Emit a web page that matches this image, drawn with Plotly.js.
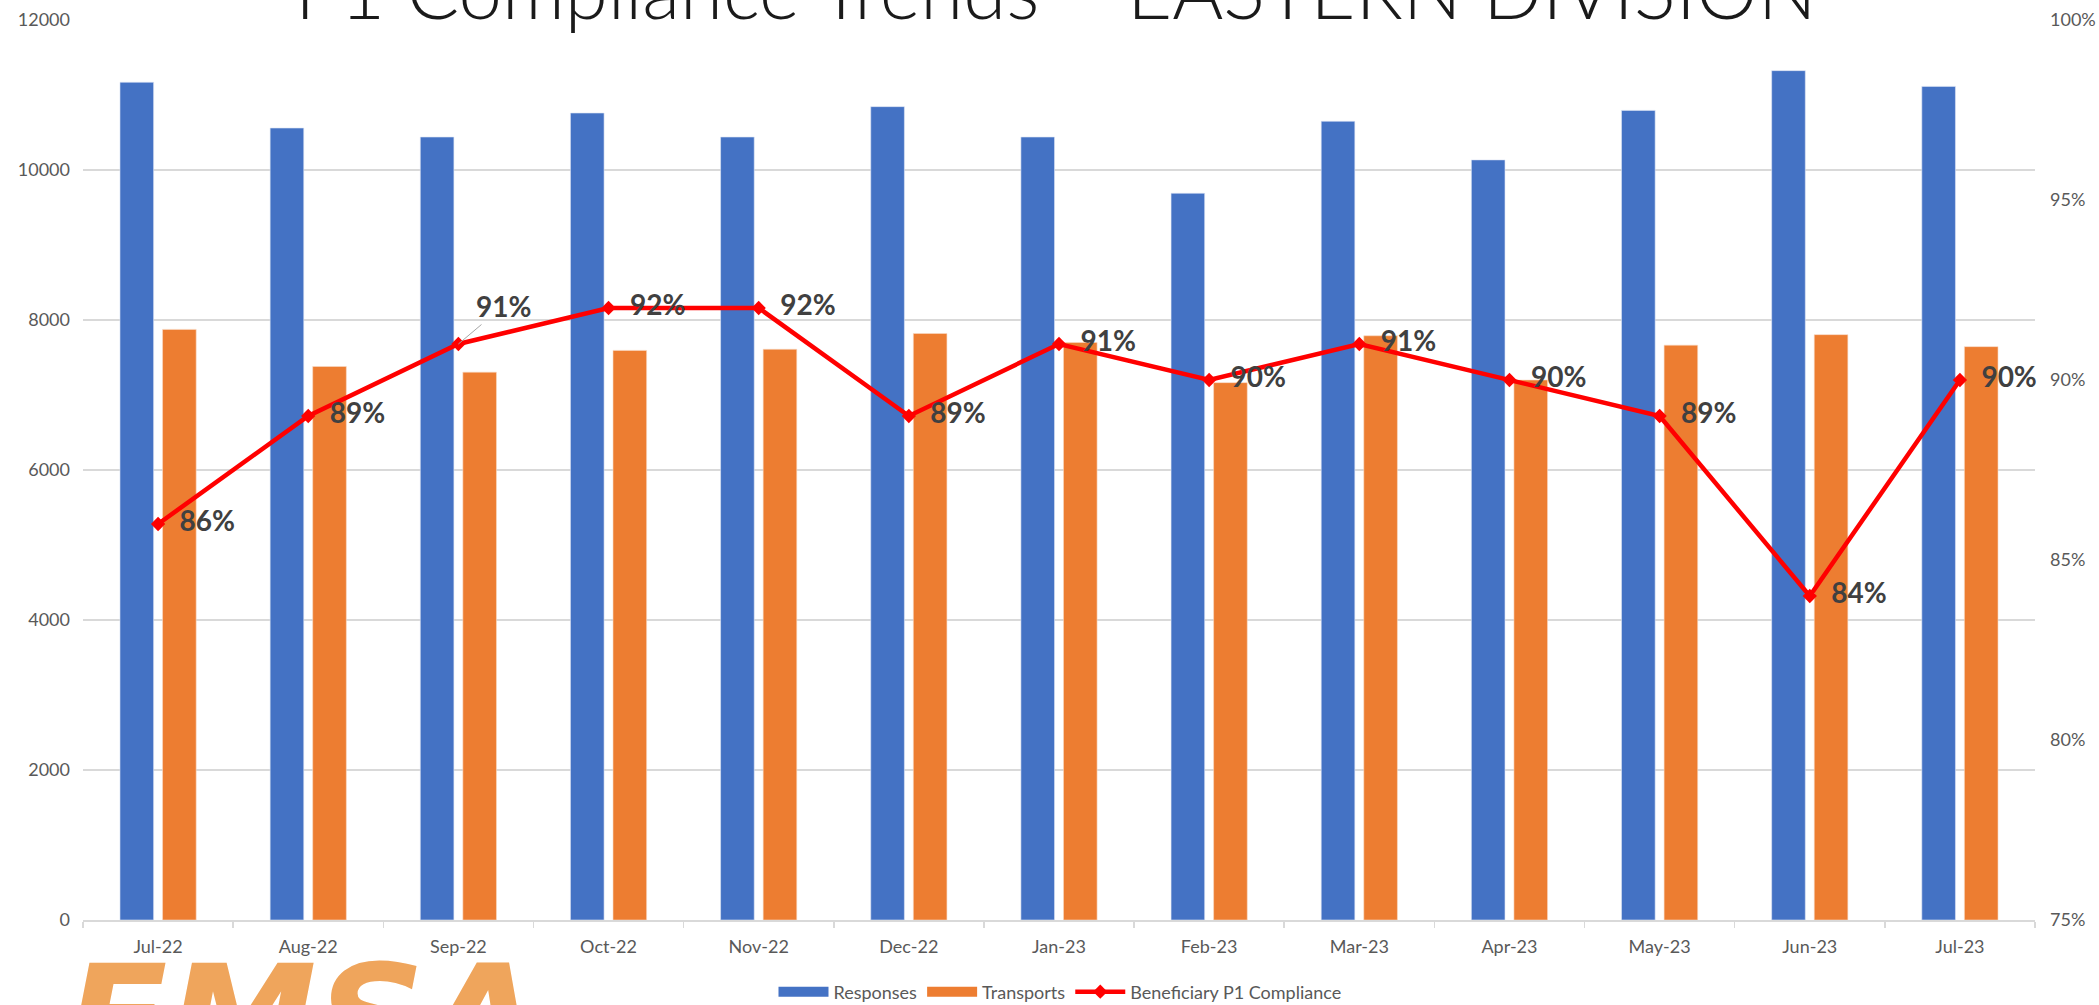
<!DOCTYPE html>
<html>
<head>
<meta charset="utf-8">
<script src="https://cdn.plot.ly/plotly-3.0.1.min.js"></script>
<style>html,body{margin:0;padding:0;background:#fff;overflow:hidden;}#chart{width:2099px;height:1005px;}</style>
</head>
<body>
<div id="chart"></div>
<script>
const months = ["Jul-22","Aug-22","Sep-22","Oct-22","Nov-22","Dec-22","Jan-23","Feb-23","Mar-23","Apr-23","May-23","Jun-23","Jul-23"];
const responses = [11170, 10560, 10440, 10760, 10440, 10845, 10440, 9690, 10650, 10135, 10795, 11325, 11115];
const transports = [7875, 7380, 7305, 7595, 7610, 7820, 7700, 7165, 7790, 7200, 7665, 7805, 7645];
const compliance = [0.86, 0.89, 0.91, 0.92, 0.92, 0.89, 0.91, 0.90, 0.91, 0.90, 0.89, 0.84, 0.90];
const leftTicks = [0, 2000, 4000, 6000, 8000, 10000, 12000];
const rightTicks = [0.75, 0.80, 0.85, 0.90, 0.95, 1.00];

const FONT = "Lato, 'Open Sans', sans-serif";
const BLUE = "#4472C4", ORANGE = "#ED7D31", RED = "#FF0000";
const labelText = compliance.map((v, i) => i === 2 ? "" : "\u00A0\u00A0" + Math.round(v * 100) + "%");

const traces = [
  {type: "bar", name: "Responses", x: months, y: responses, showlegend: false, legendgroup: "r",
   marker: {color: BLUE, line: {color: "#dfe6f5", width: 0.6}}},
  {type: "bar", name: "Transports", x: months, y: transports, showlegend: false, legendgroup: "t",
   marker: {color: ORANGE, line: {color: "#f8dcc8", width: 0.6}}},
  // legend swatches (wide rectangles, as in the original legend)
  {type: "scatter", mode: "lines", name: "Responses", legendgroup: "r", x: [months[0]], y: [null], line: {color: BLUE, width: 11}, hoverinfo: "skip"},
  {type: "scatter", mode: "lines", name: "Transports", legendgroup: "t", x: [months[0]], y: [null], line: {color: ORANGE, width: 11}, hoverinfo: "skip"},
  {type: "scatter", mode: "lines+markers+text", name: "Beneficiary P1 Compliance", x: months, y: compliance, yaxis: "y2",
   line: {color: RED, width: 4.5}, marker: {symbol: "diamond", size: 11, color: RED},
   text: labelText, textposition: "middle right", cliponaxis: false,
   textfont: {family: FONT, size: 28, color: "#404040", weight: "bold"}}
];

const layout = {
  width: 2099, height: 1005,
  margin: {l: 83, r: 64, t: 20, b: 85, pad: 0, autoexpand: false},
  paper_bgcolor: "#fff", plot_bgcolor: "#fff",
  font: {family: FONT, color: "#595959"},
  title: {text: "P1 Compliance Trends \u2013 EASTERN DIVISION", font: {family: FONT, size: 78, color: "#1a1a1a", weight: 300},
          x: 0.503, xanchor: "center", xref: "container", y: 0.981, yanchor: "bottom", yref: "container", automargin: false},
  barmode: "group", bargap: 0.433, bargroupgap: 0.21,
  showlegend: true,
  legend: {orientation: "h", x: 0.505, xanchor: "center", xref: "container", y: 0.013, yanchor: "middle", yref: "container",
           font: {family: FONT, size: 18, color: "#595959"}, itemwidth: 50, traceorder: "normal", itemclick: false},
  xaxis: {type: "category", range: [-0.5, months.length - 0.5], automargin: false, showgrid: false, showline: true, linecolor: "#d9d9d9", linewidth: 1.5,
          ticks: "outside", tickson: "boundaries", ticklen: 6, tickcolor: "#d9d9d9", tickwidth: 1.5, ticklabelstandoff: 10,
          tickfont: {family: FONT, size: 18, color: "#595959"}},
  yaxis: {automargin: false, range: [0, 12000], tickvals: leftTicks, ticktext: leftTicks.map(String), showgrid: true, gridcolor: "#d9d9d9", gridwidth: 1.5,
          zeroline: false, showline: false, ticks: "", ticklabelstandoff: 12,
          tickfont: {family: FONT, size: 18, color: "#595959"}},
  yaxis2: {automargin: false, overlaying: "y", side: "right", range: [0.75, 1.0], tickvals: rightTicks, ticktext: rightTicks.map(v => Math.round(v*100) + "%"),
           showgrid: false, zeroline: false, showline: false, ticks: "", ticklabelstandoff: 14,
           tickfont: {family: FONT, size: 18, color: "#595959"}},
  annotations: [
    {x: months[2], y: compliance[2], xref: "x", yref: "y2", text: Math.round(compliance[2]*100) + "%",
     showarrow: true, arrowhead: 0, arrowwidth: 1, arrowcolor: "#a6a6a6", ax: 45, ay: -38,
     font: {family: FONT, size: 28, color: "#404040", weight: "bold"}},
    {x: -0.01, y: -0.012, xref: "paper", yref: "paper", xanchor: "left", yanchor: "top",
     text: "<i>EMSA</i>", showarrow: false, font: {family: "DejaVu Sans", size: 150, color: "#EFA55C", weight: "bold"}}
  ]
};

Plotly.newPlot("chart", traces, layout, {displayModeBar: false, staticPlot: true});
</script>
</body>
</html>
